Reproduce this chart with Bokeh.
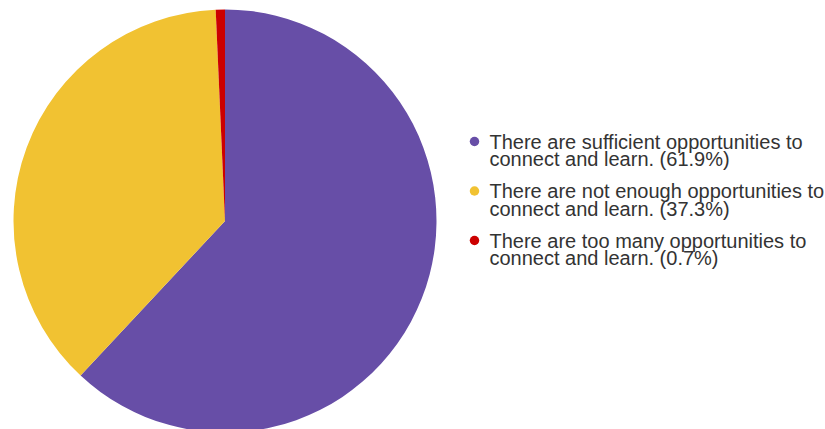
import math
from bokeh.plotting import figure
from bokeh.models import Range1d, ColumnDataSource
from bokeh.core.properties import value
from bokeh.embed import file_html
from bokeh.resources import INLINE

labels = [
    "There are sufficient opportunities to\nconnect and learn.",
    "There are not enough opportunities to\nconnect and learn.",
    "There are too many opportunities to\nconnect and learn.",
]
percents = [61.9, 37.3, 0.7]
colors = ["#674ea7", "#f1c232", "#cc0000"]

W, H = 825, 429
p = figure(width=W, height=H, output_backend="svg", toolbar_location=None,
           x_range=Range1d(0, W), y_range=Range1d(0, H), min_border=0)
p.axis.visible = False
p.grid.visible = False
p.outline_line_color = None
p.background_fill_color = "white"
p.border_fill_color = "white"

# pie
cx, cy, r = 224.5, 208.5, 211.5
total = sum(percents)
starts, ends = [], []
cum = 0.0
for v in percents:
    a0 = math.pi / 2 - 2 * math.pi * cum / total
    cum += v
    a1 = math.pi / 2 - 2 * math.pi * cum / total
    starts.append(a0)
    ends.append(a1)
src = ColumnDataSource(dict(x=[cx] * 3, y=[cy] * 3, start=starts, end=ends, color=colors))
p.wedge(x="x", y="y", radius=r, start_angle="start", end_angle="end",
        direction="clock", fill_color="color", line_color=None, source=src)

# legend
lx_dot, lx_text = 474, 489
first_dot = 288.0
item_gap = 49.5
line_gap = 17.5
dot_x, dot_y, dot_c = [], [], []
tx, ty, tt = [], [], []
for i, (lab, pct, c) in enumerate(zip(labels, percents, colors)):
    dy = first_dot - i * item_gap
    dot_x.append(lx_dot)
    dot_y.append(dy)
    dot_c.append(c)
    lines = f"{lab} ({pct}%)".split("\n")
    for j, ln in enumerate(lines):
        tx.append(lx_text)
        ty.append(dy - j * line_gap)
        tt.append(ln)

p.scatter(x=dot_x, y=dot_y, size=9.5, marker="circle", fill_color=dot_c, line_color=None)
p.text(x=tx, y=ty, text=tt, text_font=value("Liberation Sans"), text_font_size="20px",
       text_color="#333333", text_baseline="middle", text_align="left")

open("out.html", "w").write(file_html(p, INLINE))
